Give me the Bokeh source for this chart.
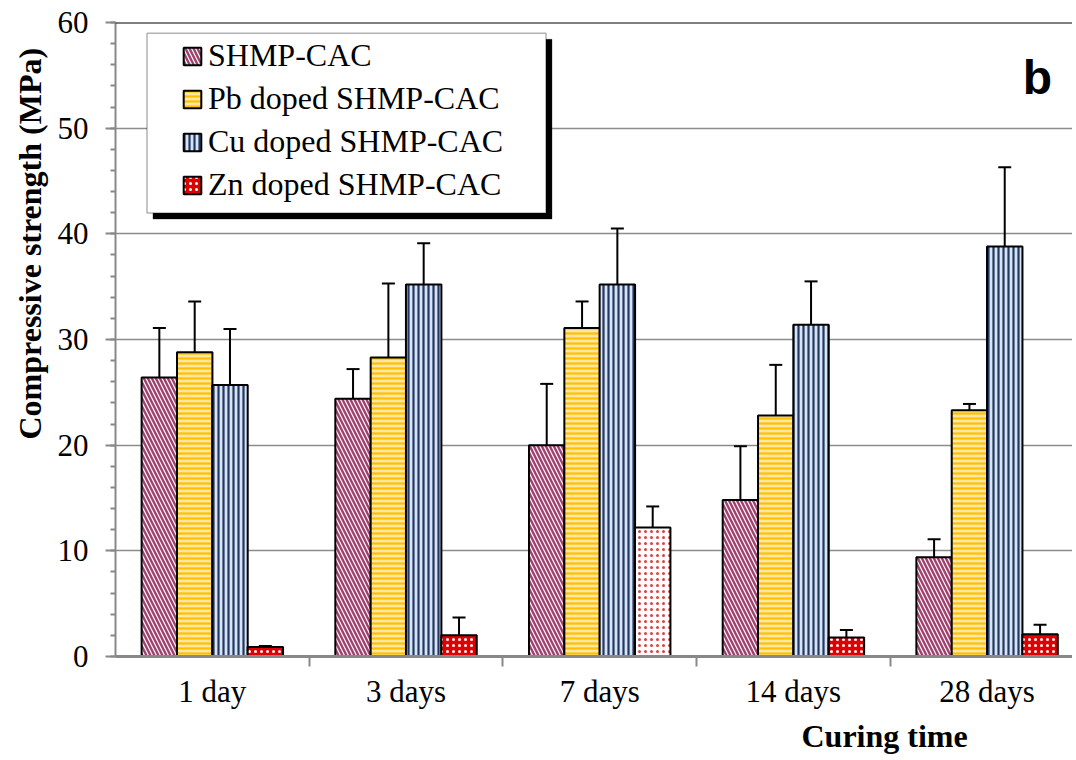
from bokeh.plotting import figure
from bokeh.models import (ColumnDataSource, Whisker, TeeHead, Legend, LegendItem,
                          BoxAnnotation, Label, FixedTicker, Range1d, SingleIntervalTicker,
                          Span, Title)
from bokeh.embed import file_html
from bokeh.resources import INLINE

# ---------------- data ----------------
days = ["1 day", "3 days", "7 days", "14 days", "28 days"]
series = ["SHMP-CAC", "Pb doped SHMP-CAC", "Cu doped SHMP-CAC", "Zn doped SHMP-CAC"]
shmp = [26.4, 24.4, 20.0, 14.8, 9.4]
shmp_err = [4.7, 2.8, 5.8, 5.1, 1.7]
pb = [28.8, 28.3, 31.1, 22.8, 23.3]
pb_err = [4.8, 7.0, 2.5, 4.8, 0.6]
cu = [25.7, 35.2, 35.2, 31.4, 38.8]
cu_err = [5.3, 3.9, 5.3, 4.1, 7.5]
zn = [0.9, 2.0, 12.2, 1.8, 2.1]
zn_err = [0.1, 1.7, 2.0, 0.7, 0.9]

FONT = "Liberation Serif"

p = figure(width=1072, height=758, output_backend="svg", toolbar_location=None,
           x_range=Range1d(0, 4.941), y_range=Range1d(0, 60),
           min_border_left=115, min_border_right=0, min_border_top=22, min_border_bottom=101)
p.outline_line_color = None
p.background_fill_color = "white"

styles = [
    dict(fill_color="white", hatch_pattern="left_diagonal_line", hatch_color="#9E416F",
         hatch_scale=8, hatch_weight=2.4),
    dict(fill_color="#FFE7A3", hatch_pattern="horizontal_line", hatch_color="#FFC000",
         hatch_scale=5, hatch_weight=2.2),
    dict(fill_color="#DAE3F3", hatch_pattern="vertical_line", hatch_color="#1F3864",
         hatch_scale=5, hatch_weight=2.2),
    dict(fill_color="fc", hatch_pattern="dot", hatch_color="hc",
         hatch_scale=6, hatch_weight=1.0),
]
offsets = [-0.2736, -0.0911, 0.0911, 0.2736]
vals = [shmp, pb, cu, zn]
errs = [shmp_err, pb_err, cu_err, zn_err]
bw = 0.183

renderers = []
for k in range(4):
    xs = [i + 0.5 + offsets[k] for i in range(len(days))]
    up = [v + e for v, e in zip(vals[k], errs[k])]
    data = dict(x=xs, top=vals[k], upper=up)
    if k == 3:
        # the 7-day Zn bar is drawn with a paler pattern in the reference
        data["fc"] = ["white" if i == 2 else "#E00000" for i in range(len(days))]
        data["hc"] = ["#E04040" if i == 2 else "white" for i in range(len(days))]
    src = ColumnDataSource(data)
    r = p.vbar(x="x", top="top", width=bw, source=src, line_color="black", line_width=2,
               **styles[k])
    renderers.append(r)
    w = Whisker(source=src, base="x", lower="top", upper="upper", line_color="black",
                line_width=2, lower_head=None,
                upper_head=TeeHead(size=13, line_color="black", line_width=2))
    w.level = "overlay"
    p.add_layout(w)

# top border line
p.add_layout(Span(location=60, dimension="width", line_color="black", line_width=2))

# axes
p.yaxis.ticker = SingleIntervalTicker(interval=10, num_minor_ticks=5)
p.yaxis.major_label_text_font = FONT
p.yaxis.major_label_text_font_size = "31px"
p.yaxis.major_label_text_color = "black"
p.yaxis.major_tick_out = 10
p.yaxis.major_tick_in = 0
p.yaxis.minor_tick_out = 5
p.yaxis.minor_tick_in = 0
p.yaxis.axis_line_color = "#888888"
p.yaxis.axis_line_width = 2
p.yaxis.major_tick_line_color = "#888888"
p.yaxis.major_tick_line_width = 2
p.yaxis.minor_tick_line_color = "#888888"
p.yaxis.minor_tick_line_width = 2
p.yaxis.major_label_standoff = 17

centers = [i + 0.5 for i in range(len(days))]
p.xaxis.ticker = FixedTicker(ticks=centers, minor_ticks=[1, 2, 3, 4])
p.xaxis.major_label_overrides = {c: d for c, d in zip(centers, days)}
p.xaxis.major_label_text_font = FONT
p.xaxis.major_label_text_font_size = "31px"
p.xaxis.major_label_text_color = "black"
p.xaxis.major_tick_out = 0
p.xaxis.major_tick_in = 0
p.xaxis.minor_tick_out = 10
p.xaxis.minor_tick_in = 0
p.xaxis.minor_tick_line_color = "#888888"
p.xaxis.minor_tick_line_width = 2
p.xaxis.axis_line_color = "#888888"
p.xaxis.axis_line_width = 3
p.xaxis.major_label_standoff = 7

p.xgrid.grid_line_color = None
p.ygrid.grid_line_color = "#8C8C8C"
p.ygrid.grid_line_width = 1.5

# axis titles
p.add_layout(Title(text="Compressive strength (MPa)", text_font=FONT, text_font_style="bold",
                   text_font_size="32px", text_color="black", align="left", offset=217,
                   standoff=14), "left")
p.add_layout(Title(text="Curing time", text_font=FONT, text_font_style="bold",
                   text_font_size="32px", text_color="black", align="left", offset=686,
                   standoff=9), "below")

# panel letter
p.add_layout(Label(x=4.76, y=54.77, text="b", text_font="Liberation Sans",
                   text_font_style="bold", text_font_size="48px", text_align="center",
                   text_baseline="middle", text_color="black"))

# legend box with shadow
p.add_layout(BoxAnnotation(left=0.1936, right=2.2535, top=58.41, bottom=41.40,
                           fill_color="black", fill_alpha=1, line_color="black"))
p.add_layout(BoxAnnotation(left=0.1626, right=2.2225, top=58.98, bottom=41.97,
                           fill_color="white", fill_alpha=1, line_color="black",
                           line_width=1.5))

legend = Legend(items=[LegendItem(label=s, renderers=[r], index=0 if i == 3 else None)
                       for i, (s, r) in enumerate(zip(series, renderers))],
                location=(66, 453), orientation="vertical",
                label_text_font=FONT, label_text_font_size="32px", label_text_color="black",
                glyph_width=22, glyph_height=22, label_height=30, spacing=6,
                label_standoff=5, padding=8, margin=0,
                border_line_color=None, background_fill_alpha=0)
p.add_layout(legend, "center")

open("out.html", "w").write(file_html(p, INLINE))
